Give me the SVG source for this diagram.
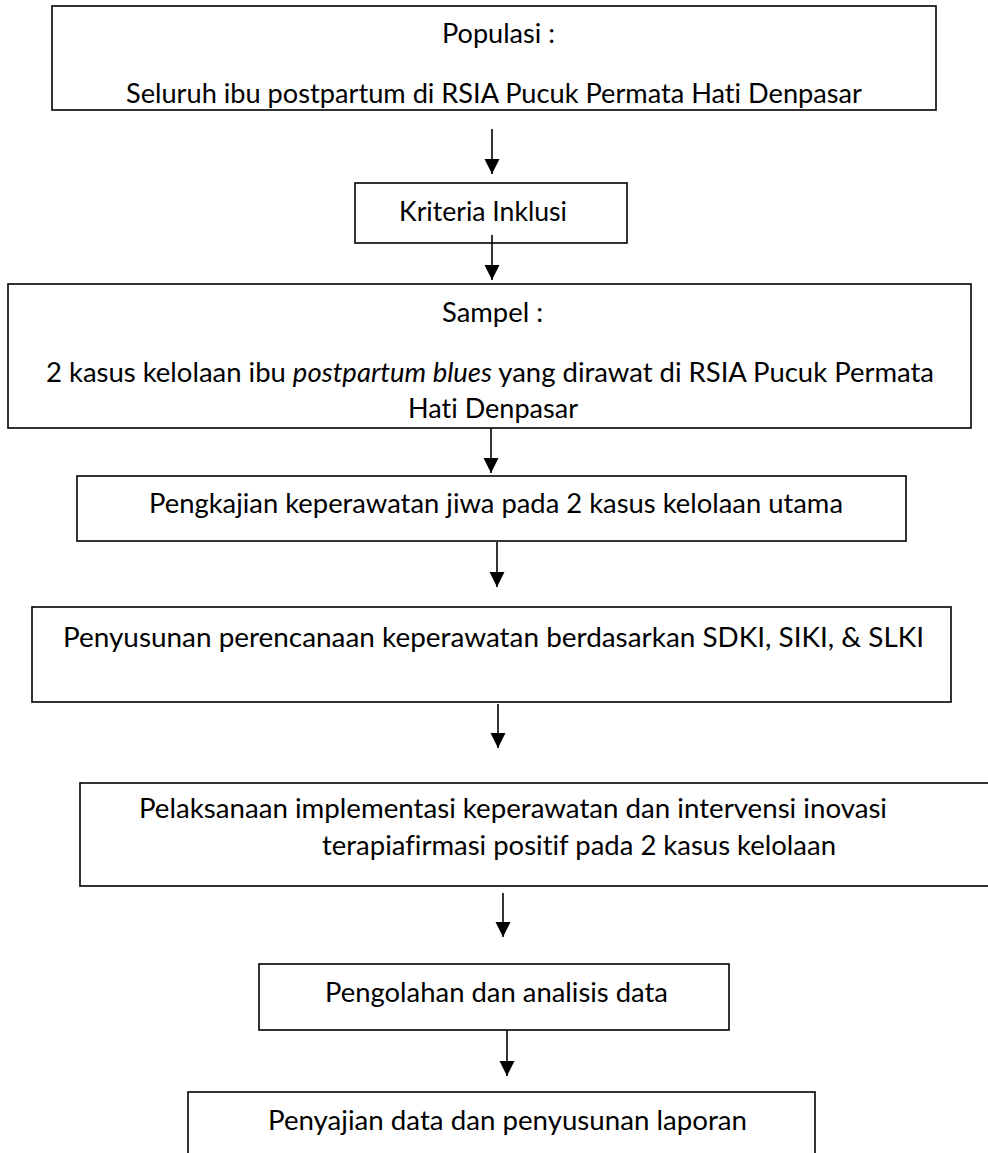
<svg xmlns="http://www.w3.org/2000/svg" width="988" height="1153" viewBox="0 0 988 1153">
<style>
.box{fill:#fff;stroke:#000;stroke-width:1.6}
.t{font-family:Lato,"Open Sans","Liberation Sans",sans-serif;font-size:27px;fill:#000;font-variant-ligatures:none;font-feature-settings:"liga" 0}
.c{stroke:#000;stroke-width:1.6;fill:none}
</style>
<defs>
<marker id="ah" markerUnits="userSpaceOnUse" markerWidth="16" markerHeight="16" refX="15" refY="7.5" orient="auto">
<path d="M0,0 L15,7.5 L0,15 z" fill="#000"/>
</marker>
</defs>
<rect width="988" height="1153" fill="#fff"/>
<g id="n1">
<rect class="box" x="52" y="6" width="884" height="104"/>
<text class="t" x="442" y="43" textLength="113" lengthAdjust="spacingAndGlyphs">Populasi :</text>
<text class="t" x="126" y="103" textLength="736" lengthAdjust="spacingAndGlyphs">Seluruh ibu postpartum di RSIA Pucuk Permata Hati Denpasar</text>
</g>
<g id="n2">
<rect class="box" x="355" y="183" width="272" height="60"/>
<text class="t" x="399" y="221" textLength="168" lengthAdjust="spacingAndGlyphs">Kriteria Inklusi</text>
</g>
<g id="n3">
<rect class="box" x="8" y="284" width="963" height="144"/>
<text class="t" x="442" y="322" textLength="101" lengthAdjust="spacingAndGlyphs">Sampel :</text>
<text class="t" x="46" y="382" textLength="888" lengthAdjust="spacingAndGlyphs">2 kasus kelolaan ibu <tspan font-style="italic">postpartum blues</tspan> yang dirawat di RSIA Pucuk Permata</text>
<text class="t" x="408" y="418" textLength="170" lengthAdjust="spacingAndGlyphs">Hati Denpasar</text>
</g>
<g id="n4">
<rect class="box" x="77" y="476" width="829" height="65"/>
<text class="t" x="149" y="513" textLength="694" lengthAdjust="spacingAndGlyphs">Pengkajian keperawatan jiwa pada 2 kasus kelolaan utama</text>
</g>
<g id="n5">
<rect class="box" x="32" y="607" width="919" height="95"/>
<text class="t" x="63" y="647" textLength="861" lengthAdjust="spacingAndGlyphs">Penyusunan perencanaan keperawatan berdasarkan SDKI, SIKI, &amp; SLKI</text>
</g>
<g id="n6">
<rect class="box" x="80" y="783" width="920" height="103"/>
<text class="t" x="139" y="818" textLength="748" lengthAdjust="spacingAndGlyphs">Pelaksanaan implementasi keperawatan dan intervensi inovasi</text>
<text class="t" x="322" y="855" textLength="514" lengthAdjust="spacingAndGlyphs">terapiafirmasi positif pada 2 kasus kelolaan</text>
</g>
<g id="n7">
<rect class="box" x="259" y="964" width="470" height="66"/>
<text class="t" x="325" y="1002" textLength="343" lengthAdjust="spacingAndGlyphs">Pengolahan dan analisis data</text>
</g>
<g id="n8">
<rect class="box" x="188" y="1092" width="627" height="80"/>
<text class="t" x="268" y="1130" textLength="479" lengthAdjust="spacingAndGlyphs">Penyajian data dan penyusunan laporan</text>
</g>
<g id="connectors">
<line class="c" x1="492" y1="129" x2="492" y2="174" marker-end="url(#ah)"/>
<line class="c" x1="492" y1="235" x2="492" y2="280" marker-end="url(#ah)"/>
<line class="c" x1="491" y1="428" x2="491" y2="473" marker-end="url(#ah)"/>
<line class="c" x1="497" y1="542" x2="497" y2="587" marker-end="url(#ah)"/>
<line class="c" x1="498" y1="704" x2="498" y2="748" marker-end="url(#ah)"/>
<line class="c" x1="503" y1="893" x2="503" y2="937" marker-end="url(#ah)"/>
<line class="c" x1="507" y1="1030" x2="507" y2="1076" marker-end="url(#ah)"/>
</g>
</svg>
